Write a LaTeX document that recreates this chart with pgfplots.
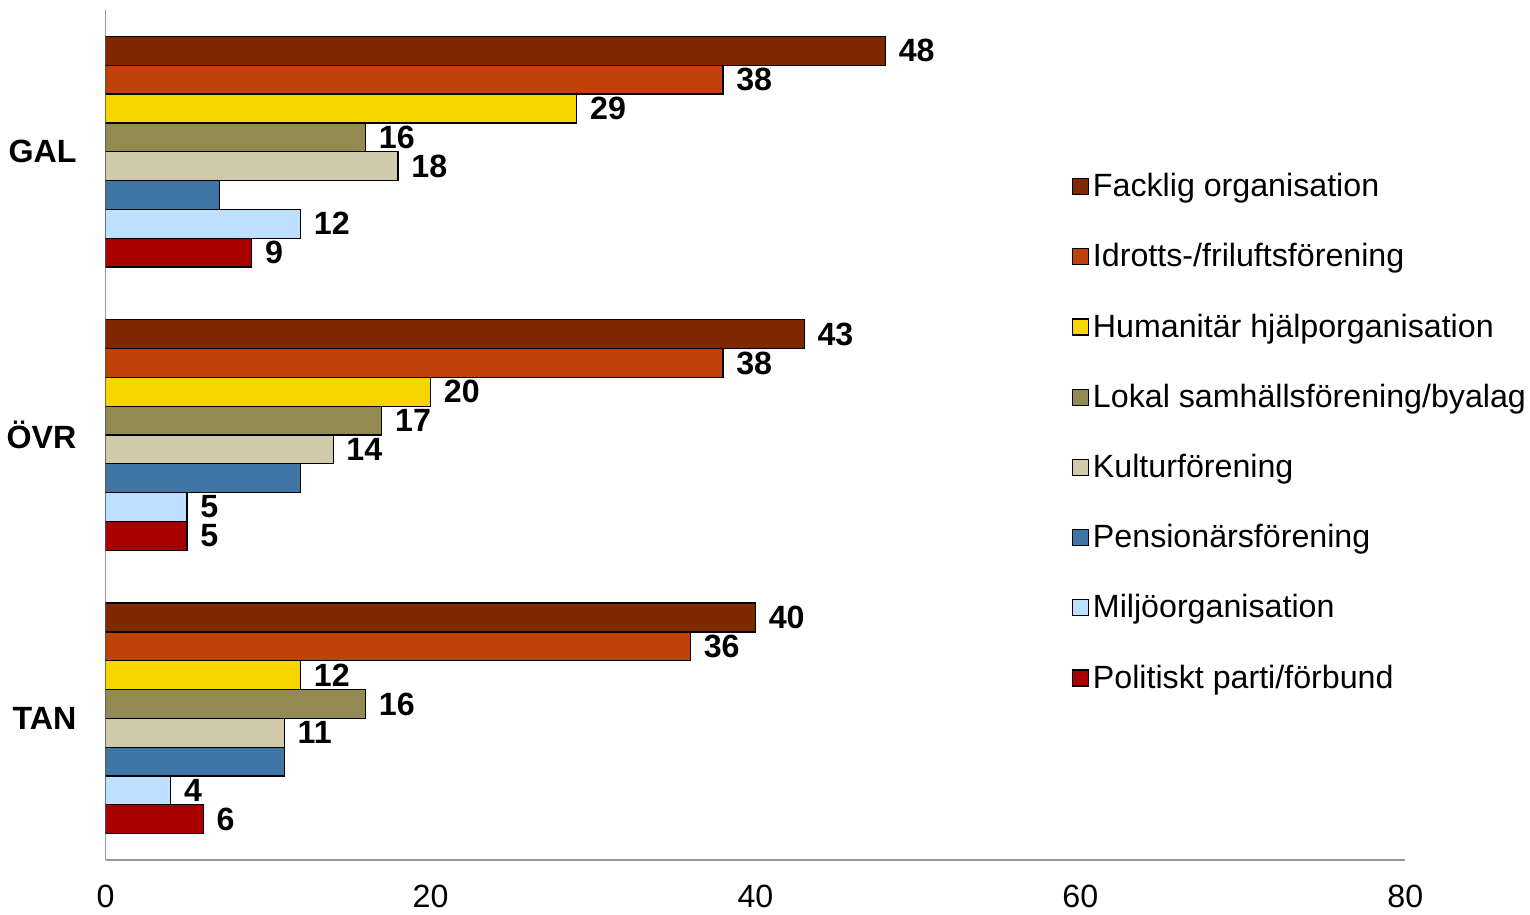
\documentclass[border=0pt]{standalone}
\usepackage{pgfplots}
\pgfplotsset{compat=1.18}
\usepackage{fontspec}
\setmainfont{Liberation Sans}
\definecolor{c1}{RGB}{128,40,0}
\definecolor{c2}{RGB}{193,65,10}
\definecolor{c3}{RGB}{247,214,0}
\definecolor{c4}{RGB}{147,137,83}
\definecolor{c5}{RGB}{209,202,170}
\definecolor{c6}{RGB}{64,118,165}
\definecolor{c7}{RGB}{189,224,255}
\definecolor{c8}{RGB}{168,0,0}
\begin{document}
\begin{tikzpicture}
\begin{axis}[
  scale only axis,
  width=646pt, height=422.5pt,
  xbar=0pt,
  bar width=0.1017,
  xmin=0, xmax=80,
  ymin=-0.5, ymax=2.5,
  y dir=reverse,
  axis x line*=bottom,
  axis y line*=left,
  axis line style={draw=gray!80, line width=0.8pt},
  xtick={0,20,40,60,80},
  ytick={0,1,2},
  yticklabels={GAL,ÖVR,TAN},
  major tick length=0pt,
  tick label style={font=\fontsize{16}{19}\selectfont},
  yticklabel style={font=\fontsize{16}{19}\selectfont\bfseries, xshift=-11pt},
  xticklabel style={yshift=-9pt},
  /pgf/number format/assume math mode=true,
  every axis plot/.append style={draw=black, line width=0.6pt},
  nodes near coords,
  every node near coord/.append style={font=\fontsize{16}{19}\selectfont\bfseries, anchor=west, xshift=3pt, inner ysep=0pt, black},
  legend style={draw=none, at={(0.743,0.813)}, anchor=north west, font=\fontsize{16}{19}\selectfont, row sep=17.8pt, inner sep=0pt, /tikz/every even column/.append style={column sep=4pt}},
  legend cell align=left,
  legend image code/.code={\draw[#1, line width=0.6pt] (0pt,-4pt) rectangle (8pt,4pt);},
]
\addplot[fill=c1] coordinates {(48,0) (43,1) (40,2)};
\addplot[fill=c2] coordinates {(38,0) (38,1) (36,2)};
\addplot[fill=c3] coordinates {(29,0) (20,1) (12,2)};
\addplot[fill=c4] coordinates {(16,0) (17,1) (16,2)};
\addplot[fill=c5] coordinates {(18,0) (14,1) (11,2)};
\addplot[fill=c6, nodes near coords={}] coordinates {(7,0) (12,1) (11,2)};
\addplot[fill=c7] coordinates {(12,0) (5,1) (4,2)};
\addplot[fill=c8] coordinates {(9,0) (5,1) (6,2)};
\legend{Facklig organisation, Idrotts-/friluftsförening, Humanitär hjälporganisation, Lokal samhällsförening/byalag, Kulturförening, Pensionärsförening, Miljöorganisation, Politiskt parti/förbund}
\end{axis}
\path ([yshift=5pt]current axis.north west);
\end{tikzpicture}
\end{document}
